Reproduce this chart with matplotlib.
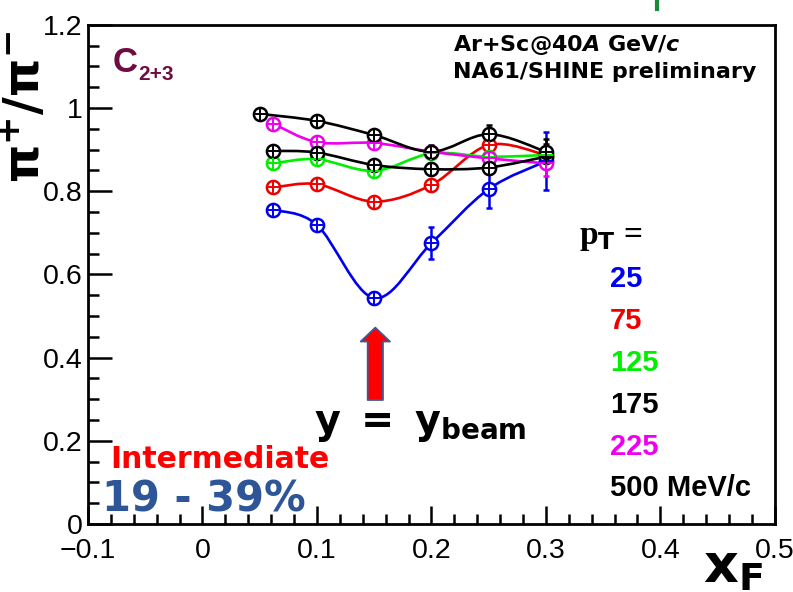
import matplotlib
matplotlib.use("Agg")
import matplotlib.pyplot as plt
import numpy as np
from matplotlib.path import Path
from matplotlib.patches import PathPatch
from matplotlib.ticker import MultipleLocator, FuncFormatter

# x_F bins
xf = [0.062, 0.1, 0.15, 0.2, 0.25, 0.3]
xf_500 = [0.05, 0.1, 0.15, 0.2, 0.25, 0.3]

# pi+/pi- ratio per pT bin
r_25 = [0.755, 0.719, 0.543, 0.675, 0.805, 0.872]
r_75 = [0.809, 0.817, 0.775, 0.815, 0.911, 0.887]
r_125 = [0.867, 0.877, 0.849, 0.891, 0.883, 0.887]
r_175 = [0.897, 0.893, 0.863, 0.853, 0.857, 0.883]
r_225 = [0.962, 0.918, 0.916, 0.895, 0.879, 0.867]
r_500 = [0.986, 0.969, 0.935, 0.895, 0.937, 0.895]

e_25 = [0.012, 0.012, 0.015, 0.038, 0.045, 0.07]
e_75 = [0.01, 0.01, 0.012, 0.015, 0.012, 0.015]
e_125 = [0.008, 0.008, 0.01, 0.01, 0.012, 0.015]
e_175 = [0.008, 0.008, 0.01, 0.015, 0.015, 0.03]
e_225 = [0.01, 0.01, 0.01, 0.012, 0.02, 0.03]
e_500 = [0.008, 0.008, 0.01, 0.015, 0.022, 0.03]

pt_labels = ["25", "75", "125", "175", "225", "500 MeV/c"]
pt_colors = ["#0000ee", "#ee0000", "#00ee00", "black", "#ee00ee", "black"]

series = [(xf, r_25, e_25), (xf, r_75, e_75), (xf, r_125, e_125),
          (xf, r_175, e_175), (xf, r_225, e_225), (xf_500, r_500, e_500)]


def smooth_path(x, y):
    # Catmull-Rom through the points, drawn as cubic Bezier segments
    pts = np.column_stack([x, y]).astype(float)
    n = len(pts)
    verts = [pts[0]]
    codes = [Path.MOVETO]
    for i in range(n - 1):
        p0 = pts[max(i - 1, 0)]
        p1 = pts[i]
        p2 = pts[i + 1]
        p3 = pts[min(i + 2, n - 1)]
        verts += [p1 + (p2 - p0) / 6, p2 - (p3 - p1) / 6, p2]
        codes += [Path.CURVE4] * 3
    return Path(verts, codes)


plt.rcParams['font.family'] = ['Liberation Sans', 'DejaVu Sans']

fig = plt.figure(figsize=(7.93, 5.92), dpi=100)
ax = fig.add_axes([0.111, 0.115, 0.866, 0.843])

draw_order = [0, 1, 2, 4, 3, 5]
for i in draw_order:
    x, y, e = series[i]
    c = pt_colors[i]
    ax.add_patch(PathPatch(smooth_path(x, y), facecolor='none', edgecolor=c,
                           lw=1.9, zorder=2))
    ax.errorbar(x, y, yerr=e, fmt='none', ecolor=c, elinewidth=1.8,
                capsize=2.5, capthick=1.8, zorder=3)
    ax.plot(x, y, 'o', ms=9.5, mfc='white', mec=c, mew=1.8, zorder=4)
    ax.plot(x, y, '+', ms=9.5, mec=c, mew=1.4, zorder=5)

ax.set_xlim(-0.1, 0.5)
ax.set_ylim(0, 1.2)

ax.xaxis.set_major_locator(MultipleLocator(0.1))
ax.xaxis.set_minor_locator(MultipleLocator(0.02))
ax.yaxis.set_major_locator(MultipleLocator(0.2))
ax.yaxis.set_minor_locator(MultipleLocator(0.05))


def fmt(v, pos):
    s = f"{v:.2g}" if abs(v) > 1e-9 else "0"
    return s.replace("-", "\u2212")


ax.xaxis.set_major_formatter(FuncFormatter(fmt))
ax.yaxis.set_major_formatter(FuncFormatter(fmt))
ax.tick_params(which='both', direction='in', top=False, right=False,
               labelsize=20.5, width=1.8)
ax.tick_params(axis='y', which='major', length=17, pad=4)
ax.tick_params(axis='y', which='minor', length=8)
ax.tick_params(axis='x', which='major', length=13, pad=10)
ax.tick_params(axis='x', which='minor', length=7)
for sp in ax.spines.values():
    sp.set_linewidth(2)

# axis titles
fig.text(0.032, 0.82, r"$\mathbf{\pi^{+}/\pi^{-}}$", rotation=90,
         ha='center', va='center', fontsize=35, family='DejaVu Sans')
fig.text(0.925, 0.042, r"$\mathbf{x_F}$", ha='center', va='center',
         fontsize=39, family='DejaVu Sans')

# labels inside the frame
ax.text(0.036, 0.906, "C", transform=ax.transAxes, fontsize=25,
        fontweight='bold', color='#6e0d42', va='baseline')
ax.text(0.073, 0.889, "2+3", transform=ax.transAxes, fontsize=15,
        fontweight='bold', color='#6e0d42', va='baseline')
ax.text(0.532, 0.948, "Ar+Sc@40$\\mathbfit{A}$ GeV/$\\mathbfit{c}$",
        transform=ax.transAxes, fontsize=16, fontweight='bold',
        family='DejaVu Sans', va='baseline')
ax.text(0.532, 0.893, "NA61/SHINE preliminary", transform=ax.transAxes,
        fontsize=16, fontweight='bold', family='DejaVu Sans', va='baseline')

ax.text(0.715, 0.56, r"p$_{\mathbf{T}}$ =", transform=ax.transAxes,
        fontsize=24, fontweight='bold', family='Liberation Serif',
        va='baseline')
for k, (lab, c) in enumerate(zip(pt_labels, pt_colors)):
    ax.text(0.76, 0.475 - k * 0.084, lab, transform=ax.transAxes,
            fontsize=21, fontweight='bold', color=c, va='baseline')

ax.annotate("", xy=(0.151, 0.472), xytext=(0.151, 0.298),
            arrowprops=dict(arrowstyle="simple,head_width=21,head_length=10,tail_width=11",
                            mutation_scale=1, fc='#ff0000', ec='#3c5a96',
                            lw=1.3, shrinkA=0, shrinkB=0))
ax.text(0.19, 0.219, r"$\mathbf{y\ =\ y_{beam}}$", ha='center',
        va='baseline', fontsize=28.5, family='DejaVu Sans')

ax.text(0.032, 0.113, "Intermediate", transform=ax.transAxes, fontsize=21.5,
        fontweight='bold', color='#ff0000', family='DejaVu Sans',
        va='baseline')
ax.text(0.02, 0.024, "19 - 39%", transform=ax.transAxes, fontsize=30,
        fontweight='bold', color='#2e5597', family='DejaVu Sans',
        va='baseline')

fig.add_artist(plt.Line2D([0.829, 0.829], [0.985, 1.0], color='#1a8a3a',
                          lw=3, transform=fig.transFigure))

fig.savefig("out.png", dpi=100)
